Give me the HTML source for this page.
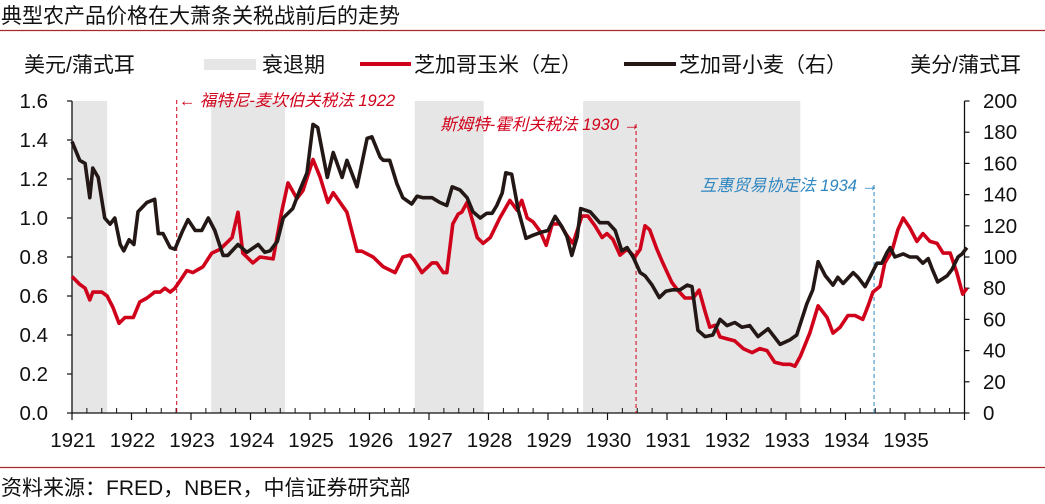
<!DOCTYPE html>
<html><head><meta charset="utf-8"><style>
html,body{margin:0;padding:0;background:#fff;}
svg{display:block;font-family:"Liberation Sans","Noto Sans CJK SC",sans-serif;}
</style></head><body>
<svg id="chart" width="1045" height="504" viewBox="0 0 1045 504">
<text x="1" y="23" font-size="21" fill="#111">典型农产品价格在大萧条关税战前后的走势</text>
<line x1="0" y1="30.5" x2="1045" y2="30.5" stroke="#a52a2a" stroke-width="1.2"/>
<text x="24" y="72" font-size="21" fill="#111">美元/蒲式耳</text>
<text x="1021" y="72" font-size="21" fill="#111" text-anchor="end">美分/蒲式耳</text>
<g>
<rect x="204" y="59" width="52" height="11" fill="#e6e6e6"/>
<text x="262" y="72" font-size="21" fill="#111">衰退期</text>
<line x1="360" y1="64" x2="411" y2="64" stroke="#d0021b" stroke-width="4"/>
<text x="414" y="72" font-size="21" fill="#111">芝加哥玉米（左）</text>
<line x1="624" y1="64" x2="676" y2="64" stroke="#231815" stroke-width="4"/>
<text x="679" y="72" font-size="21" fill="#111">芝加哥小麦（右）</text>
</g>
<g id="plot"></g>
<line x1="0" y1="467.5" x2="1045" y2="467.5" stroke="#a52a2a" stroke-width="1.2"/>
<text x="1" y="495" font-size="21" fill="#111">资料来源：FRED，NBER，中信证券研究部</text>
</svg>
<script>
// years since 1921
const cornDates=[0,.13,.22,.30,.35,.50,.59,.69,.79,.89,1.03,1.14,1.26,1.39,1.48,1.56,1.65,1.73,1.82,1.93,2.03,2.20,2.35,2.49,2.69,2.79,2.87,3.04,3.16,3.38,3.53,3.63,3.78,3.88,4.05,4.17,4.30,4.39,4.62,4.79,4.87,5.06,5.23,5.43,5.56,5.68,5.76,5.88,6.05,6.13,6.24,6.30,6.40,6.49,6.55,6.64,6.69,6.81,6.91,7.03,7.19,7.36,7.48,7.56,7.65,7.75,7.87,7.97,8.07,8.20,8.32,8.42,8.57,8.67,8.79,8.91,8.99,9.09,9.21,9.33,9.46,9.55,9.63,9.71,9.83,9.93,10.08,10.18,10.30,10.44,10.54,10.64,10.72,10.81,10.89,11.01,11.14,11.28,11.43,11.56,11.68,11.81,11.95,12.07,12.15,12.24,12.40,12.54,12.69,12.79,12.91,13.04,13.16,13.29,13.38,13.46,13.58,13.66,13.78,13.88,13.97,14.08,14.20,14.30,14.42,14.54,14.64,14.76,14.87,14.97,15.04];
const cornValues=[0.70,0.66,0.64,0.58,0.62,0.62,0.60,0.54,0.46,0.49,0.49,0.57,0.59,0.62,0.62,0.64,0.62,0.64,0.68,0.73,0.72,0.75,0.82,0.84,0.90,1.03,0.82,0.77,0.80,0.79,1.04,1.18,1.10,1.14,1.30,1.21,1.08,1.13,1.03,0.83,0.83,0.80,0.75,0.72,0.80,0.81,0.78,0.72,0.77,0.77,0.72,0.72,0.97,1.02,1.03,1.08,1.03,0.90,0.87,0.90,1.00,1.09,1.04,1.09,1.00,0.98,0.93,0.86,0.97,0.97,0.91,0.87,1.01,1.01,0.96,0.90,0.92,0.89,0.81,0.84,0.80,0.84,0.96,0.94,0.84,0.77,0.67,0.63,0.59,0.59,0.63,0.52,0.44,0.45,0.39,0.38,0.37,0.33,0.31,0.33,0.32,0.26,0.25,0.25,0.24,0.29,0.41,0.55,0.49,0.41,0.44,0.50,0.50,0.48,0.55,0.62,0.65,0.77,0.83,0.94,1.00,0.95,0.88,0.92,0.88,0.87,0.82,0.82,0.72,0.61,0.64];
const wheatDates=[0,.13,.22,.30,.35,.44,.55,.64,.72,.81,.87,.96,1.04,1.11,1.26,1.39,1.45,1.53,1.65,1.73,1.85,1.95,2.07,2.18,2.29,2.40,2.54,2.62,2.79,2.94,3.13,3.24,3.33,3.45,3.55,3.71,3.83,3.95,4.05,4.13,4.29,4.39,4.54,4.62,4.79,4.96,5.04,5.18,5.23,5.34,5.46,5.56,5.71,5.80,5.90,6.05,6.18,6.30,6.39,6.52,6.64,6.74,6.86,6.97,7.06,7.14,7.23,7.29,7.39,7.50,7.63,7.75,7.90,8.00,8.12,8.24,8.32,8.40,8.49,8.55,8.71,8.87,9.01,9.13,9.24,9.33,9.43,9.55,9.63,9.75,9.87,9.98,10.10,10.22,10.34,10.42,10.52,10.64,10.77,10.89,11.01,11.14,11.26,11.39,11.53,11.70,11.90,12.07,12.18,12.35,12.45,12.54,12.66,12.79,12.87,12.96,13.13,13.21,13.33,13.41,13.53,13.61,13.70,13.75,13.83,13.97,14.08,14.20,14.30,14.39,14.46,14.55,14.71,14.79,14.89,14.96,15.04];
const wheatValues=[174,162,160,138,157,151,125,121,125,108,104,111,108,129,135,137,115,115,106,105,116,124,117,117,125,117,101,101,108,103,108,103,104,110,125,131,143,154,185,183,151,167,151,162,145,176,177,164,162,162,147,138,134,139,138,138,135,133,145,143,138,129,125,128,128,133,141,154,153,130,112,114,116,117,126,119,113,101,113,131,129,122,122,117,104,106,100,90,88,82,74,78,79,79,82,81,53,49,50,60,56,58,55,56,49,54,44,47,50,70,79,97,88,82,87,83,90,87,81,87,96,96,103,106,100,102,100,100,96,99,92,84,88,92,100,102,106];
const recessionStarts=[0.0,2.34,5.76,8.59];
const recessionEnds=[0.59,3.58,6.92,12.24];
const yearLabels=["1921","1922","1923","1924","1925","1926","1927","1928","1929","1930","1931","1932","1933","1934","1935"];
const leftTicks=["0.0","0.2","0.4","0.6","0.8","1.0","1.2","1.4","1.6"];
const rightTicks=["0","20","40","60","80","100","120","140","160","180","200"];
const eventDates=[1.76,9.48,13.48];
const eventLabels=["← 福特尼-麦坎伯关税法 1922","斯姆特-霍利关税法 1930 →","互惠贸易协定法 1934 →"];
const eventColors=["#d0021b","#d0021b","#2e86c1"];

const NS="http://www.w3.org/2000/svg";
const X0=72,XS=59.5,Y0=413,YT=101;
const x=t=>X0+t*XS;
const yL=v=>Y0-(v/1.6)*(Y0-YT);
const yR=v=>Y0-(v/200)*(Y0-YT);
const plot=document.getElementById('plot');
function mk(tag,attrs,parent){const e=document.createElementNS(NS,tag);for(const k in attrs)e.setAttribute(k,attrs[k]);(parent||plot).appendChild(e);return e;}

recessionStarts.forEach((s,i)=>{
  const r=mk('rect',{x:x(s),y:YT,width:x(recessionEnds[i])-x(s),height:Y0-YT,fill:'#e6e6e6'});
  
  
});
const ax=mk('path',{d:`M${X0} ${YT}V${Y0}H${x(15)}V${YT}`,stroke:'#111','stroke-width':1.3,fill:'none'});


leftTicks.forEach((lab,i)=>{
  const v=i*0.2,yy=yL(v);
  mk('line',{x1:X0-5,y1:yy,x2:X0,y2:yy,stroke:'#111','stroke-width':1.2});
  const t=mk('text',{x:48,y:yy+7,'font-size':20.5,'text-anchor':'end',fill:'#111'});t.textContent=lab;
  
  
});
rightTicks.forEach((lab,i)=>{
  const yy=yR(i*20);
  mk('line',{x1:x(15),y1:yy,x2:x(15)+5,y2:yy,stroke:'#111','stroke-width':1.2});
  const t=mk('text',{x:983,y:yy+7,'font-size':20.5,fill:'#111'});t.textContent=lab;
  
  
});
for(let q=0;q<=60;q++){
  const xx=x(q/4);
  if(q%4===0) mk('line',{x1:xx,y1:Y0,x2:xx,y2:Y0+7,stroke:'#111','stroke-width':1.2});
  else mk('line',{x1:xx,y1:Y0,x2:xx,y2:Y0-5,stroke:'#111','stroke-width':1});
}
yearLabels.forEach((lab,i)=>{
  const t=mk('text',{x:x(i)+1,y:447,'font-size':20.5,'text-anchor':'middle',fill:'#111'});t.textContent=lab;
  
  
});
const evY=[106,130,191],evAnchor=['start','end','end'];
eventDates.forEach((d,i)=>{
  const xx=x(d);
  const l=mk('line',{x1:xx,y1:evY[i]-6,x2:xx,y2:Y0,stroke:eventColors[i],'stroke-width':1,'stroke-dasharray':'4,3'});
  
  
  const t=mk('text',{x:i===0?xx+2:xx+4,y:evY[i],'font-size':16.5,'font-style':'italic','text-anchor':evAnchor[i],fill:eventColors[i]});
  t.textContent=eventLabels[i];
  
  
});
function line(dates,vals,sc,color){
  return mk('polyline',{points:dates.map((d,i)=>x(d).toFixed(1)+','+sc(vals[i]).toFixed(1)).join(' '),fill:'none',stroke:color,'stroke-width':3.6,'stroke-linejoin':'round'});
}
const c=line(cornDates,cornValues,yL,'#d0021b');


const w=line(wheatDates,wheatValues,yR,'#231815');


</script>
</body></html>
